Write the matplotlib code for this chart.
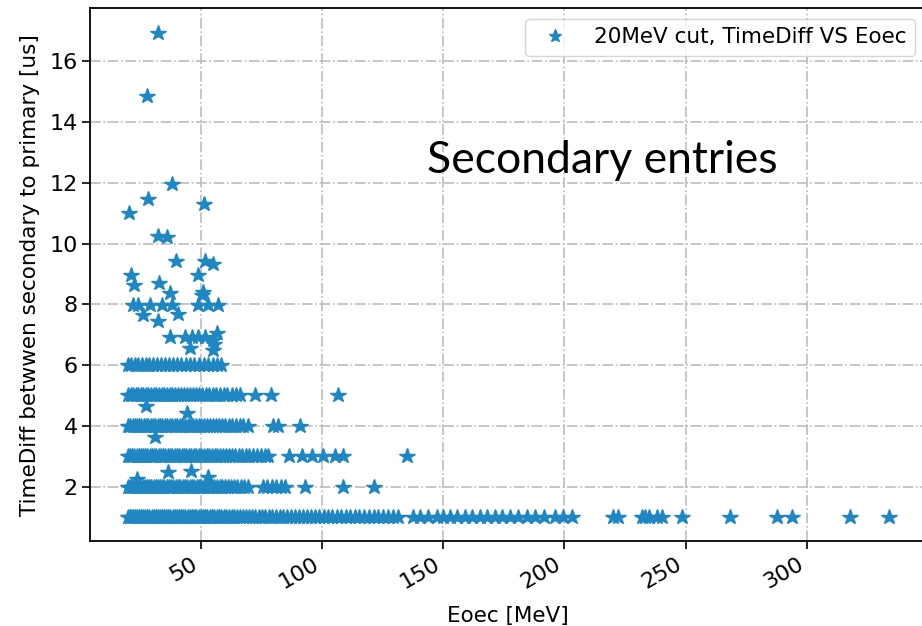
import numpy as np
import matplotlib
matplotlib.use("Agg")
from matplotlib import pyplot as plt

# Eoec [MeV] for the entries sitting on the integer TimeDiff rows
row1_x = [20.0, 20.6, 21.3, 22.1, 22.8, 23.6, 24.5, 25.3, 26.1, 27.0, 27.9, 28.7,
          29.6, 30.4, 31.3, 32.2, 33.0, 33.9, 34.8, 35.6, 36.5, 37.4, 38.3, 39.1,
          40.0, 40.9, 41.8, 42.7, 43.6, 44.5, 45.4, 46.3, 47.2, 48.1, 49.0, 49.9,
          50.8, 51.7, 52.6, 53.6, 54.5, 55.4, 56.4, 57.3, 58.3, 59.3, 60.4, 61.5,
          62.6, 63.8, 64.9, 66.1, 67.3, 68.6, 69.8, 71.1, 72.4, 73.8, 75.1, 76.5,
          78.0, 79.4, 80.9, 82.4, 83.9, 85.5, 87.1, 88.7, 90.3, 92.0, 93.7, 95.4,
          97.1, 98.9, 100.6, 102.4, 104.2, 106.0, 107.9, 109.7, 111.6, 113.5,
          115.4, 117.3, 119.3, 121.2, 123.2, 125.2, 127.2, 129.2, 131.1,
          137.7, 140.4, 143.8, 147.3, 150.0, 152.8, 155.6, 159.0, 161.8, 165.2,
          168.0, 171.4, 174.2, 177.6, 181.0, 184.5, 187.9, 191.4, 196.2, 199.6,
          203.1, 220.2, 222.3, 232.0, 233.3, 234.7, 238.2, 240.2, 248.5, 268.4,
          287.7, 293.9, 317.7, 333.8]
row2_x = [20.0, 20.7, 21.5, 22.4, 23.2, 24.1, 25.0, 25.9, 26.8, 27.7, 28.6, 29.5,
          30.4, 31.3, 32.2, 33.1, 34.0, 34.9, 35.9, 36.8, 37.7, 38.6, 39.6, 40.5,
          41.5, 42.4, 43.4, 44.3, 45.3, 46.3, 47.3, 48.2, 49.2, 50.2, 51.3, 52.3,
          53.3, 54.4, 55.5, 56.6, 57.7, 58.8, 60.0, 61.2, 62.4, 63.7, 65.0, 66.4,
          67.9, 69.4, 75.5, 77.4, 79.3, 81.0, 83.0, 84.7, 92.9, 108.6, 121.2]
row3_x = [20.0, 20.8, 21.7, 22.5, 23.4, 24.3, 25.2, 26.1, 27.0, 27.9, 28.8, 29.7,
          30.6, 31.5, 32.5, 33.4, 34.3, 35.3, 36.2, 37.2, 38.1, 39.1, 40.1, 41.0,
          42.0, 43.0, 44.0, 45.0, 46.0, 47.0, 48.1, 49.1, 50.2, 51.2, 52.3, 53.4,
          54.5, 55.6, 56.8, 57.9, 59.1, 60.3, 61.6, 62.9, 64.2, 65.6, 67.0, 68.5,
          70.0, 71.6, 73.2, 74.8, 76.3, 77.7, 86.5, 91.6, 95.7, 100.5, 105.3,
          108.8, 134.9]
row4_x = [20.0, 20.9, 21.8, 22.7, 23.6, 24.5, 25.4, 26.4, 27.3, 28.3, 29.2, 30.2,
          31.1, 32.1, 33.1, 34.1, 35.1, 36.1, 37.1, 38.1, 39.2, 40.2, 41.3, 42.3,
          43.4, 44.5, 45.6, 46.7, 47.8, 49.0, 50.1, 51.3, 52.5, 53.7, 54.9, 56.2,
          57.5, 58.8, 60.1, 61.5, 62.9, 64.4, 65.9, 67.5, 69.2, 79.9, 81.9, 90.9]
row5_x = [20.0, 21.0, 22.0, 23.0, 24.0, 25.1, 26.1, 27.2, 28.2, 29.3, 30.4, 31.5,
          32.6, 33.7, 34.8, 35.9, 37.1, 38.2, 39.4, 40.6, 41.8, 43.0, 44.2, 45.5,
          46.7, 48.0, 49.3, 50.6, 52.0, 53.4, 54.8, 56.3, 57.8, 59.3, 60.9, 62.6,
          64.3, 66.0, 72.3, 78.8, 106.7]
row6_x = [20.0, 21.3, 22.7, 24.1, 25.6, 27.1, 28.6, 30.2, 31.8, 33.4, 35.1, 36.8,
          38.5, 40.2, 41.9, 43.7, 45.5, 47.3, 49.2, 51.1, 53.0, 54.9, 56.6, 58.3]

# entries that are off the integer rows
odd_x = [32.1, 27.8, 38.2, 28.2, 20.4, 51.2, 32.1, 36.0, 39.6, 51.7, 55.0, 21.2,
         22.3, 48.9, 32.8, 37.2, 50.9, 50.3, 22.0, 24.1, 28.9, 33.8, 37.9, 48.9,
         53.0, 57.1, 25.9, 32.4, 40.6, 37.2, 43.4, 46.2, 48.9, 51.7, 56.5, 45.5,
         55.1, 55.3, 55.0, 27.3, 44.3, 31.0, 23.5, 36.5, 45.9, 53.0]
odd_y = [16.94, 14.86, 11.97, 11.48, 11.01, 11.30, 10.25, 10.20, 9.42, 9.43, 9.32, 8.95,
         8.63, 8.95, 8.69, 8.38, 8.41, 8.30, 7.97, 7.97, 7.97, 7.97, 7.97, 7.97,
         7.97, 7.97, 7.64, 7.46, 7.68, 6.93, 6.93, 6.93, 6.93, 6.93, 7.04, 6.57,
         6.82, 6.71, 6.49, 4.65, 4.41, 3.64, 2.25, 2.47, 2.52, 2.33]

rows = [(1, row1_x), (2, row2_x), (3, row3_x), (4, row4_x), (5, row5_x), (6, row6_x)]
eoec = np.concatenate([np.array(xs) for _, xs in rows] + [np.array(odd_x)])
tdiff = np.concatenate([np.full(len(xs), float(t)) for t, xs in rows] + [np.array(odd_y)])

plt.rcParams['font.size'] = 15.5

fig = plt.figure(figsize=(9.22, 6.26), dpi=100)
ax = fig.add_axes([0.0979, 0.1353, 0.9064, 0.8518])

ax.plot(eoec, tdiff, '*', color='#1f86c1', markersize=11.5,
        label='20MeV cut, TimeDiff VS Eoec')

ax.set_xlim(4.3, 349.2)
ax.set_ylim(0.2, 17.75)
ax.set_xticks([50, 100, 150, 200, 250, 300])
ax.set_yticks([2, 4, 6, 8, 10, 12, 14, 16])
for lbl in ax.get_xticklabels():
    lbl.set_rotation(30)
    lbl.set_ha('right')

ax.grid(True, linestyle='-.', color='#bdbdbd', linewidth=1.2)
ax.tick_params(length=5.5, width=1.2, labelsize=16)
for sp in ax.spines.values():
    sp.set_linewidth(1.3)

ax.set_xlabel('Eoec [MeV]', labelpad=10)
ax.set_ylabel('TimeDiff betwwen secondary to primary [us]', labelpad=7)
ax.legend(loc='upper right', markerscale=0.85)

fig.text(427 / 922, 1 - 173 / 626, 'Secondary entries', family='Lato',
         fontsize=32, va='baseline', ha='left')

fig.savefig('out.png', dpi=100)
